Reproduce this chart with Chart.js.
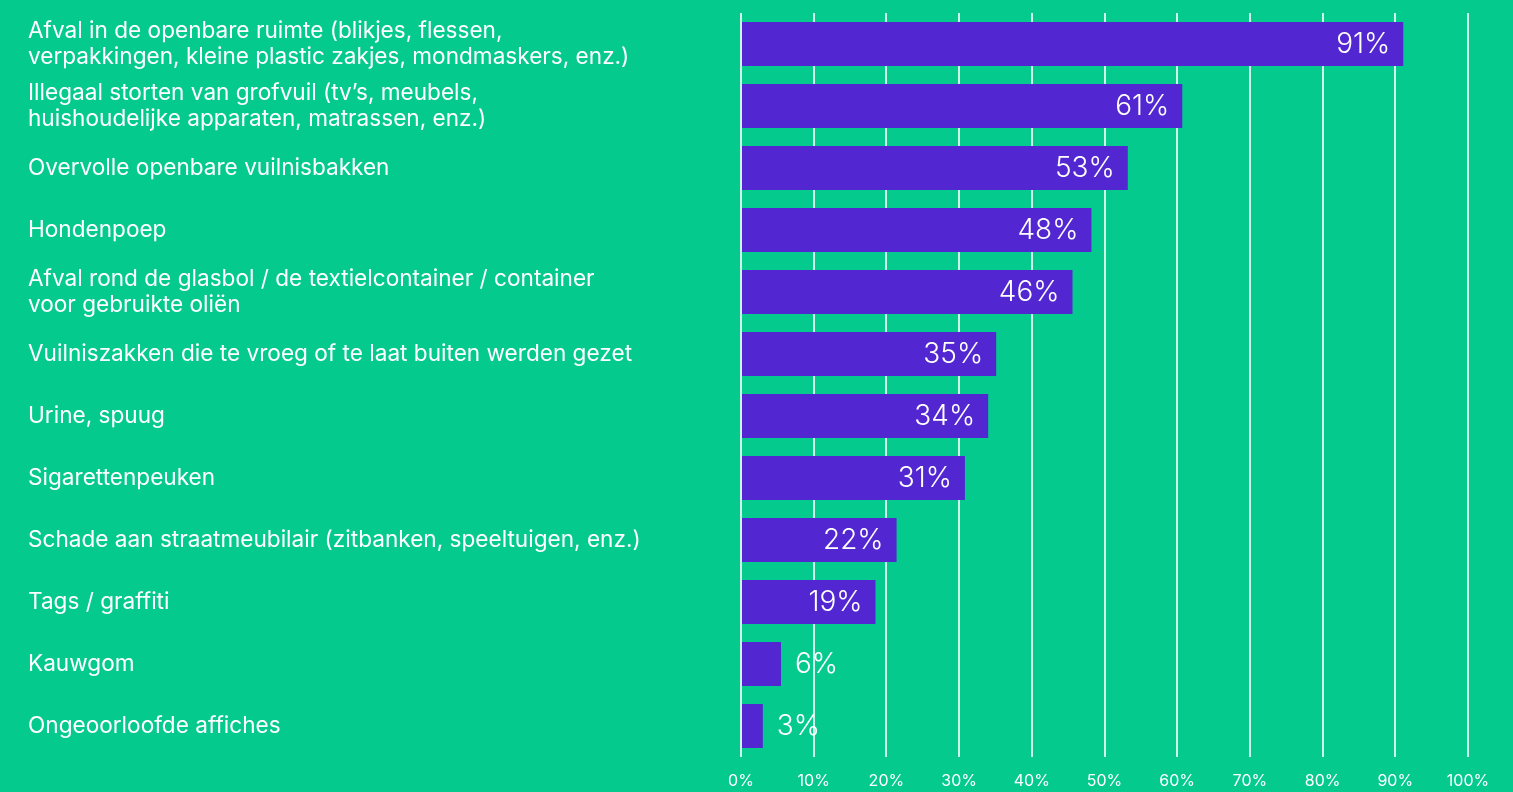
<!DOCTYPE html>
<html>
<head>
<meta charset="utf-8">
<script src="https://cdn.jsdelivr.net/npm/chart.js@4"></script>
<style>
  html, body { margin: 0; padding: 0; background: #05ca8e; }
  #wrap { width: 1513px; height: 792px; }
</style>
</head>
<body>
<div id="wrap"><canvas id="chart"></canvas></div>
<script>
const categories = [
  ['Afval in de openbare ruimte (blikjes, flessen,', 'verpakkingen, kleine plastic zakjes, mondmaskers, enz.)'],
  ['Illegaal storten van grofvuil (tv’s, meubels,', 'huishoudelijke apparaten, matrassen, enz.)'],
  'Overvolle openbare vuilnisbakken',
  'Hondenpoep',
  ['Afval rond de glasbol / de textielcontainer / container', 'voor gebruikte oliën'],
  'Vuilniszakken die te vroeg of te laat buiten werden gezet',
  'Urine, spuug',
  'Sigarettenpeuken',
  'Schade aan straatmeubilair (zitbanken, speeltuigen, enz.)',
  'Tags / graffiti',
  'Kauwgom',
  'Ongeoorloofde affiches'
];
// bar lengths as measured on the picture
const values = [91.1, 60.7, 53.2, 48.2, 45.6, 35.1, 34.0, 30.8, 21.4, 18.5, 5.5, 3.0];
// percentages as printed on the bars
const pctLabels = [91, 61, 53, 48, 46, 35, 34, 31, 22, 19, 6, 3];
const xTicks = [0, 10, 20, 30, 40, 50, 60, 70, 80, 90, 100];

const BAR = '#5226d0';
const FONT = 'Inter, "Open Sans", sans-serif';

// value labels: inside the bar end, or just after it when the bar is too short
const valueLabels = {
  id: 'valueLabels',
  afterDatasetsDraw(chart) {
    const ctx = chart.ctx;
    const meta = chart.getDatasetMeta(0);
    ctx.save();
    ctx.font = '300 28px ' + FONT;
    ctx.fillStyle = '#ffffff';
    ctx.textBaseline = 'middle';
    meta.data.forEach((bar, i) => {
      const txt = pctLabels[i] + '%';
      const w = ctx.measureText(txt).width;
      const barW = bar.x - bar.base;
      if (barW > w + 26) {
        ctx.textAlign = 'right';
        ctx.fillText(txt, bar.x - 13, bar.y + 1);
      } else {
        ctx.textAlign = 'left';
        ctx.fillText(txt, bar.x + 14, bar.y + 1);
      }
    });
    ctx.restore();
  }
};

new Chart(document.getElementById('chart'), {
  type: 'bar',
  data: {
    labels: categories,
    datasets: [{
      data: values,
      backgroundColor: BAR,
      borderWidth: 0,
      barPercentage: 0.71,
      categoryPercentage: 1
    }]
  },
  plugins: [valueLabels],
  options: {
    indexAxis: 'y',
    responsive: true,
    maintainAspectRatio: false,
    animation: false,
    layout: { padding: { left: 28, right: 45, top: 12, bottom: 0 } },
    plugins: { legend: { display: false }, tooltip: { enabled: false } },
    scales: {
      x: {
        min: 0,
        max: 100,
        afterBuildTicks: scale => { scale.ticks = xTicks.map(v => ({ value: v })); },
        afterFit: scale => { scale.height = 35; },
        grid: { color: 'rgba(255,255,255,0.8)', lineWidth: 2, drawTicks: false },
        border: { display: false },
        ticks: {
          color: '#ffffff',
          font: { family: FONT, size: 16 },
          padding: 15,
          callback: v => v + '%'
        }
      },
      y: {
        grid: { display: false },
        border: { display: false },
        afterFit: scale => { scale.width = 741 - 28; },
        ticks: {
          color: '#ffffff',
          crossAlign: 'far',
          padding: 0,
          font: { family: FONT, size: 22.6, lineHeight: '26px' }
        }
      }
    }
  }
});
</script>
</body>
</html>
